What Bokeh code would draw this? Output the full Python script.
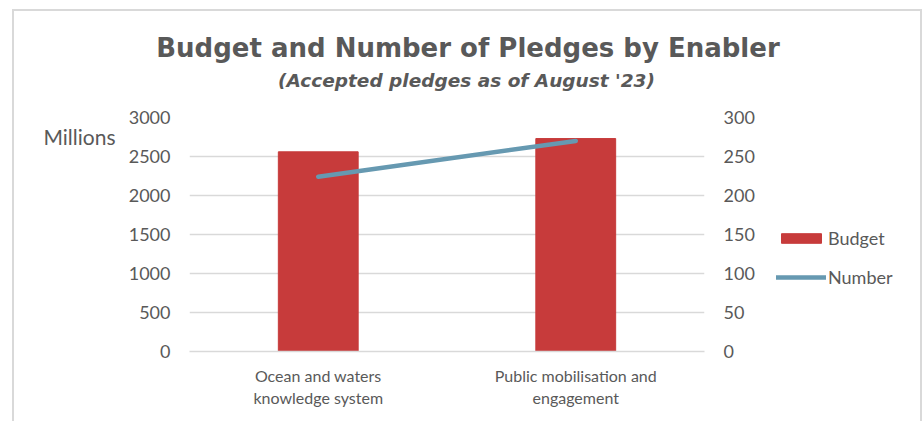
from bokeh.plotting import figure
from bokeh.layouts import column, row
from bokeh.models import (Range1d, LinearAxis, Legend, LegendItem, Label,
                          FactorRange, ColumnDataSource, FixedTicker)
from bokeh.embed import file_html
from bokeh.resources import INLINE

categories = ["Ocean and waters\nknowledge system", "Public mobilisation and\nengagement"]
budget = [2560, 2730]
number = [224, 270]
left_ticks = [0, 500, 1000, 1500, 2000, 2500, 3000]
right_ticks = [0, 50, 100, 150, 200, 250, 300]
unit_label = "Millions"
unit_label_pos = 2760

title_text = "Budget and Number of Pledges by Enabler"
subtitle_text = "(Accepted pledges as of August '23)"

GRAY = "#595959"
GRID = "#d9d9d9"
RED = "#c73b3b"
BLUE = "#6699b1"
FONT = "Lato"

src = ColumnDataSource(dict(cat=categories, budget=budget, number=number))

TOTAL_W = 906
TITLE_H = 92
CHART_H = 318
MAIN_W = 750
LEG_W = TOTAL_W - MAIN_W


def blank_fig(w, h):
    f = figure(width=w, height=h, output_backend="svg", toolbar_location=None,
               x_axis_location=None, y_axis_location=None,
               x_range=Range1d(0, 1), y_range=Range1d(0, 1), min_border=0)
    f.grid.visible = False
    f.outline_line_color = None
    return f


# ---- title strip ----
t = blank_fig(TOTAL_W, TITLE_H)
t.add_layout(Label(x=453.5, y=56, x_units="screen", y_units="screen",
                   text=title_text, text_align="center", text_baseline="alphabetic",
                   text_font="DejaVu Sans", text_font_style="bold",
                   text_font_size="26px", text_color=GRAY))
t.add_layout(Label(x=452, y=23, x_units="screen", y_units="screen",
                   text=subtitle_text, text_align="center", text_baseline="alphabetic",
                   text_font="DejaVu Sans", text_font_style="bold italic",
                   text_font_size="18.5px", text_color=GRAY))

# ---- main chart ----
FL, FR, FT, FB = 175, 690, 14, 248  # frame edges in canvas px
p = figure(x_range=FactorRange(*categories), y_range=Range1d(0, 3000),
           width=MAIN_W, height=CHART_H, output_backend="svg", toolbar_location=None,
           min_border_left=FL, min_border_right=MAIN_W - FR,
           min_border_top=FT, min_border_bottom=CHART_H - FB)
p.extra_y_ranges = {"num": Range1d(0, 300)}
p.outline_line_color = None

p.vbar(x="cat", top="budget", width=0.31, source=src,
       fill_color=RED, line_color=RED)
p.line(x="cat", y="number", y_range_name="num", source=src,
       line_color=BLUE, line_width=4.5, line_cap="round")

p.xgrid.grid_line_color = None
p.ygrid.grid_line_color = GRID
p.ygrid.grid_line_width = 1.5
p.yaxis.ticker = FixedTicker(ticks=left_ticks)


def style_axis(ax, size="18px"):
    ax.axis_line_color = None
    ax.major_tick_line_color = None
    ax.minor_tick_line_color = None
    ax.major_label_text_font = FONT
    ax.major_label_text_font_size = size
    ax.major_label_text_color = GRAY


style_axis(p.yaxis[0])
p.yaxis[0].major_label_standoff = 13

uax = LinearAxis(ticker=FixedTicker(ticks=[unit_label_pos]),
                 major_label_overrides={unit_label_pos: unit_label})
style_axis(uax, "21px")
uax.major_tick_out = 0
uax.major_label_standoff = 10
p.add_layout(uax, "left")

rax = LinearAxis(y_range_name="num", ticker=FixedTicker(ticks=right_ticks))
style_axis(rax)
rax.major_label_standoff = 13
p.add_layout(rax, "right")

style_axis(p.xaxis[0], "16px")
p.xaxis[0].axis_line_color = GRID
p.xaxis[0].axis_line_width = 1.5
p.xaxis[0].major_label_standoff = 8

# ---- legend strip (helper renderers lie outside its ranges; only the key shows) ----
q = blank_fig(LEG_W, CHART_H)
leg_bar = q.vbar(x="budget", top="budget", width=0.5, source=src,
                 fill_color=RED, line_color=RED)
leg_line = q.line(x="number", y="number", source=src,
                  line_color=BLUE, line_width=4.5, line_cap="round")
legend = Legend(items=[LegendItem(label="Budget", renderers=[leg_bar]),
                       LegendItem(label="Number", renderers=[leg_line])],
                location=(12, 63), orientation="vertical",
                glyph_width=50, glyph_height=12, label_height=20, spacing=17,
                label_standoff=2, padding=0, margin=0,
                border_line_color=None, background_fill_alpha=0,
                label_text_font=FONT, label_text_font_size="18px",
                label_text_color=GRAY)
q.add_layout(legend, "center")

layout = column(t, row(p, q, spacing=0), spacing=0,
                styles={"margin-left": "12px", "margin-top": "9px",
                        "border-left": "2px solid #d9d9d9",
                        "border-top": "2px solid #d9d9d9",
                        "border-right": "2px solid #d9d9d9"})

open("out.html", "w").write(file_html(layout, INLINE))
